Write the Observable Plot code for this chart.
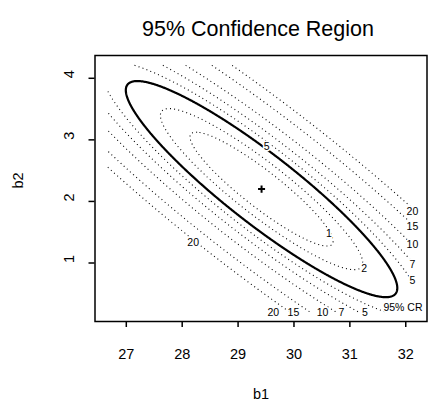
<!DOCTYPE html>
<html>
<head>
<meta charset="utf-8">
<script src="https://cdn.jsdelivr.net/npm/d3@7"></script>
<script src="https://cdn.jsdelivr.net/npm/@observablehq/plot@0.6"></script>
<style>
  body { margin: 0; background: #fff; }
  svg { display: block; }
</style>
</head>
<body>
<div id="chart"></div>
<script>
// Least-squares estimate of (b1, b2), drawn as "+"
const estimate = [29.42, 2.2];
// Spread of the unit contour along b1 and b2, and their correlation
const spread = [1.28, 0.925];
const correlation = -0.915;
// Contour levels of the criterion surface, and the level of the 95% region
const contourLevels = [1, 2, 5, 7, 10, 15, 20];
const crLevel = 3.6;
// Extent of the evaluated grid
const gridB1 = [26.66, 32.16];
const gridB2 = [0.21, 4.21];
// Axis ticks
const b1Ticks = [27, 28, 29, 30, 31, 32];
const b2Ticks = [1, 2, 3, 4];
// Contour labels and where they sit (in b1, b2 units)
const labelText = ["20", "5", "1", "2", "20", "15", "10", "7", "5", "20", "15", "10", "7", "5", "95% CR"];
const labelB1 = [28.196, 29.51, 30.625, 31.255, 32.12, 32.12, 32.12, 32.12, 32.12, 29.63, 29.99, 30.51, 30.85, 31.27, 31.95];
const labelB2 = [1.325, 2.886, 1.482, 0.903, 1.832, 1.589, 1.292, 0.98, 0.72, 0.2, 0.2, 0.2, 0.2, 0.2, 0.28];

// Quadratic criterion around the estimate
function criterion(b1, b2) {
  const z1 = (b1 - estimate[0]) / spread[0];
  const z2 = (b2 - estimate[1]) / spread[1];
  const r = correlation;
  return (z1 * z1 - 2 * r * z1 * z2 + z2 * z2) / (1 - r * r);
}

// Evaluate the criterion on the grid and trace open contour lines
// (the parts of each ring lying on the grid border are dropped).
function contourLines(levels) {
  const nx = 551, ny = 401;
  const dx = (gridB1[1] - gridB1[0]) / (nx - 1);
  const dy = (gridB2[1] - gridB2[0]) / (ny - 1);
  const values = new Float64Array(nx * ny);
  for (let j = 0; j < ny; ++j)
    for (let i = 0; i < nx; ++i)
      values[j * nx + i] = -criterion(gridB1[0] + i * dx, gridB2[0] + j * dy);
  const eps = 1e-9;
  const onBorder = ([x, y]) => x < 0.5 - eps || x > nx - 0.5 + eps || y < 0.5 - eps || y > ny - 0.5 + eps;
  const toData = ([x, y]) => [gridB1[0] + (x - 0.5) * dx, gridB2[0] + (y - 0.5) * dy];
  const rows = [];
  let id = 0;
  const gen = d3.contours().size([nx, ny]).thresholds(levels.map(v => -v));
  for (const c of gen(values)) {
    for (const polygon of c.coordinates) {
      for (let ring of polygon) {
        ring = ring.slice(0, -1);
        const start = ring.findIndex(onBorder);
        if (start < 0) {
          ring.concat([ring[0]]).forEach(p => rows.push({line: id, level: -c.value, p: toData(p)}));
          ++id;
          continue;
        }
        const rotated = ring.slice(start).concat(ring.slice(0, start));
        let open = false;
        for (const p of rotated) {
          if (onBorder(p)) { if (open) { ++id; open = false; } continue; }
          rows.push({line: id, level: -c.value, p: toData(p)});
          open = true;
        }
        if (open) ++id;
      }
    }
  }
  return rows;
}

const dottedLines = contourLines(contourLevels);
const crLine = contourLines([crLevel]);
const font = 14.5;

const chart = Plot.plot({
  width: 428,
  height: 404,
  marginTop: 55,
  marginBottom: 83,
  marginLeft: 94.5,
  marginRight: 1.5,
  x: {domain: [26.44, 32.38]},
  y: {domain: [0.05, 4.37]},
  style: {fontFamily: "'Liberation Sans', Arial, Helvetica, sans-serif", color: "black", background: "white"},
  marks: [
    Plot.line(dottedLines, {x: d => d.p[0], y: d => d.p[1], z: "line", stroke: "black",
      strokeWidth: 1.1, strokeDasharray: "1,3.2", strokeLinecap: "butt", strokeLinejoin: "miter"}),
    Plot.line(crLine, {x: d => d.p[0], y: d => d.p[1], z: "line", stroke: "black", strokeWidth: 2.2}),
    Plot.dot([estimate], {x: d => d[0], y: d => d[1], symbol: "plus", r: 2.4, stroke: "black", strokeWidth: 2}),
    Plot.text(labelText, {x: (d, i) => labelB1[i], y: (d, i) => labelB2[i], text: d => d,
      fontSize: 10.5, fill: "black", stroke: "white", strokeWidth: 3, paintOrder: "stroke"}),
    Plot.frame({stroke: "black", strokeWidth: 1.5}),
    Plot.axisX({ticks: b1Ticks, tickFormat: d => String(d), tickSize: 6, tickPadding: 21, fontSize: font, label: null, strokeWidth: 1.5}),
    Plot.axisY({ticks: b2Ticks, tickFormat: () => "", tickSize: 6, label: null, strokeWidth: 1.5}),
    Plot.text(b2Ticks, {y: d => d, text: d => String(d), frameAnchor: "left", dx: -25.5, rotate: -90, fontSize: font}),
    Plot.text(["b1"], {text: d => d, frameAnchor: "bottom", dy: 77, fontSize: font}),
    Plot.text(["b2"], {text: d => d, frameAnchor: "left", dx: -76.5, rotate: -90, fontSize: font}),
    Plot.text(["95% Confidence Region"], {text: d => d, frameAnchor: "top", dy: -35, dx: -3, fontSize: 21.5})
  ]
});

document.getElementById("chart").append(chart);
</script>
</body>
</html>
